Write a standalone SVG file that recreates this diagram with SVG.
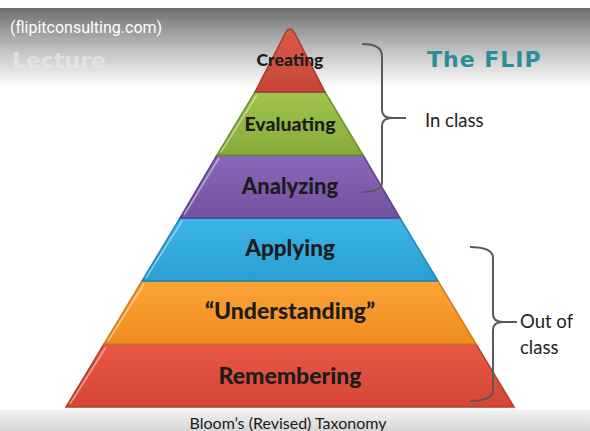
<svg xmlns="http://www.w3.org/2000/svg" width="590" height="431" viewBox="0 0 590 431">
<defs>
<linearGradient id="topbg" x1="0" y1="0" x2="0" y2="1">
<stop offset="0" stop-color="#6e6e6e"/>
<stop offset="0.5" stop-color="#bdbdbd"/>
<stop offset="1" stop-color="#ffffff"/>
</linearGradient>
<linearGradient id="botbg" x1="0" y1="0" x2="0" y2="1">
<stop offset="0" stop-color="#f2f2f2"/>
<stop offset="1" stop-color="#d6d6d6"/>
</linearGradient>
<linearGradient id="gRed" x1="0" y1="0" x2="0" y2="1"><stop offset="0" stop-color="#de5a47"/><stop offset="1" stop-color="#c4463a"/></linearGradient>
<linearGradient id="gGreen" x1="0" y1="0" x2="0" y2="1"><stop offset="0" stop-color="#a0c44c"/><stop offset="1" stop-color="#86ab3a"/></linearGradient>
<linearGradient id="gPurple" x1="0" y1="0" x2="0" y2="1"><stop offset="0" stop-color="#8a68b8"/><stop offset="1" stop-color="#7253a0"/></linearGradient>
<linearGradient id="gBlue" x1="0" y1="0" x2="0" y2="1"><stop offset="0" stop-color="#3bb6e6"/><stop offset="1" stop-color="#2a9fd2"/></linearGradient>
<linearGradient id="gOrange" x1="0" y1="0" x2="0" y2="1"><stop offset="0" stop-color="#fba535"/><stop offset="1" stop-color="#ef8c22"/></linearGradient>
<linearGradient id="gRed2" x1="0" y1="0" x2="0" y2="1"><stop offset="0" stop-color="#e85a45"/><stop offset="1" stop-color="#d44536"/></linearGradient>
</defs>
<style>
.lbl{font-family:Lato,"Open Sans","Liberation Sans",sans-serif;font-weight:900;fill:#1c1c1c;text-anchor:middle}
.side{font-family:Lato,"Open Sans","Liberation Sans",sans-serif;font-size:18.5px;fill:#222}
.brace{fill:none;stroke:#5a5a5a;stroke-width:2;stroke-linejoin:round}
.hl{fill:none;stroke:#ffffff;stroke-opacity:0.45;stroke-width:1.5}
.layer{stroke-width:1.5}
</style>
<rect x="0" y="0" width="590" height="431" fill="#ffffff"/>
<rect x="0" y="8" width="590" height="80" fill="url(#topbg)"/>
<rect x="0" y="410" width="590" height="21" fill="url(#botbg)"/>
<text x="10" y="33" font-family="Roboto,'Liberation Sans',sans-serif" font-size="16" fill="#ffffff">(flipitconsulting.com)</text>
<text x="12" y="68" font-family="'DejaVu Sans',Verdana,sans-serif" font-weight="bold" font-size="22" fill="#e9e9e9" fill-opacity="0.7">Lecture</text>
<text x="427" y="67" font-family="'DejaVu Sans',Verdana,sans-serif" font-weight="bold" font-size="22" letter-spacing="1" fill="#2a8e96">The FLIP</text>

<g id="remembering">
<polygon class="layer" points="104,344 476,344 514,407 66,407" fill="url(#gRed2)" stroke="#b83a2e"/>
<polyline class="hl" points="70,404 106,347"/>
<text class="lbl" x="290" y="384" font-size="23">Remembering</text>
</g>
<g id="understanding">
<polygon class="layer" points="142,281 438,281 476,344 104,344" fill="url(#gOrange)" stroke="#cf7a1c"/>
<polyline class="hl" points="108,341 144,284"/>
<text class="lbl" x="290" y="319" font-size="23">“Understanding”</text>
</g>
<g id="applying">
<polygon class="layer" points="180,218 400,218 438,281 142,281" fill="url(#gBlue)" stroke="#1f86b5"/>
<polyline class="hl" points="146,278 182,221"/>
<text class="lbl" x="290" y="256" font-size="22.5">Applying</text>
</g>
<g id="analyzing">
<polygon class="layer" points="217,155 363,155 400,218 180,218" fill="url(#gPurple)" stroke="#5c428a"/>
<polyline class="hl" points="184,215 219,158"/>
<text class="lbl" x="290" y="194" font-size="22">Analyzing</text>
</g>
<g id="evaluating">
<polygon class="layer" points="255,92 325,92 363,155 217,155" fill="url(#gGreen)" stroke="#6e9030"/>
<polyline class="hl" points="221,152 257,95"/>
<text class="lbl" x="290" y="131" font-size="19.5">Evaluating</text>
</g>
<g id="creating">
<path class="layer" d="M255,92 L286,32 Q290,26 294,32 L325,92 Z" fill="url(#gRed)" stroke="#a93a2e"/>
<text class="lbl" x="290" y="66" font-size="17.5">Creating</text>
</g>

<g id="connectors">
<path class="brace" d="M362,44 Q382,44 382,56 L382,110 Q382,118 392,118 L406,118 M392,118 Q382,118 382,126 L382,182 Q382,192 362,192"/>
<path class="brace" d="M470,247 Q493,247 493,258 L493,314 Q493,322 503,322 L517,322 M503,322 Q493,322 493,330 L493,390 Q493,401 470,401"/>
</g>
<text class="side" x="425" y="127">In class</text>
<text class="side" x="520" y="328">Out of</text>
<text class="side" x="520" y="354">class</text>
<text x="288" y="429" font-family="Lato,'Open Sans','Liberation Sans',sans-serif" font-size="16" fill="#1c1c1c" text-anchor="middle">Bloom’s (Revised) Taxonomy</text>
</svg>
